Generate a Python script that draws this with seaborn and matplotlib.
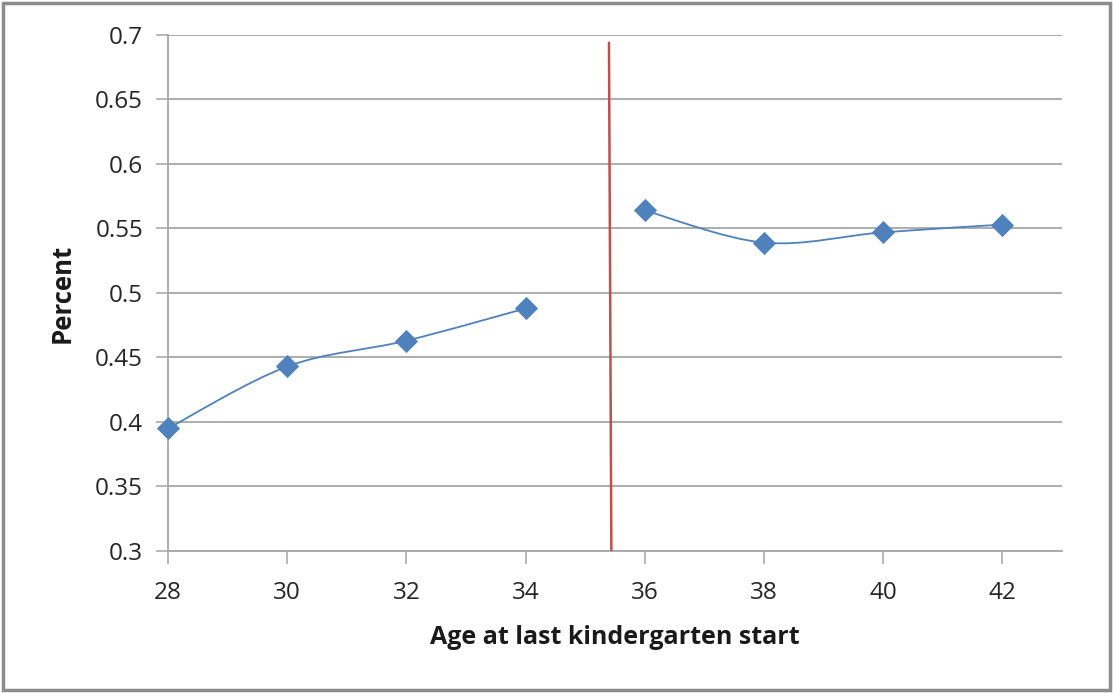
import seaborn as sns
import matplotlib.pyplot as plt
import pandas as pd
from matplotlib.path import Path
from matplotlib.patches import PathPatch, Rectangle

# data
ages_left = [28, 30, 32, 34]
pct_left = [0.395, 0.443, 0.463, 0.488]
ages_right = [36, 38, 40, 42]
pct_right = [0.564, 0.539, 0.547, 0.553]
cutoff_x = [35.40, 35.44]
cutoff_y = [0.694, 0.3]
x_ticks = [28, 30, 32, 34, 36, 38, 40, 42]
y_ticks = [0.3, 0.35, 0.4, 0.45, 0.5, 0.55, 0.6, 0.65, 0.7]

blue = '#4F81BD'
red = '#C0504D'
grid = '#A6A6A6'


def smooth_path(xs, ys):
    # excel style smoothed line (catmull-rom as bezier segments)
    pts = list(zip(xs, ys))
    verts = [pts[0]]
    codes = [Path.MOVETO]
    for i in range(len(pts) - 1):
        p0 = pts[i - 1] if i > 0 else pts[i]
        p1 = pts[i]
        p2 = pts[i + 1]
        p3 = pts[i + 2] if i + 2 < len(pts) else pts[i + 1]
        c1 = (p1[0] + (p2[0] - p0[0]) / 6, p1[1] + (p2[1] - p0[1]) / 6)
        c2 = (p2[0] - (p3[0] - p1[0]) / 6, p2[1] - (p3[1] - p1[1]) / 6)
        verts += [c1, c2, p2]
        codes += [Path.CURVE4] * 3
    return Path(verts, codes)


sns.set_style('white')
plt.rcParams['font.family'] = ['Open Sans', 'DejaVu Sans']

fig = plt.figure(figsize=(11.13, 6.93), dpi=100)
ax = fig.add_axes([0.151, 0.205, 0.803, 0.7445])

for xs, ys in [(ages_left, pct_left), (ages_right, pct_right)]:
    ax.add_patch(PathPatch(smooth_path(xs, ys), facecolor='none', edgecolor=blue, lw=1.3, zorder=3))
    df = pd.DataFrame({'age': xs, 'pct': ys})
    sns.scatterplot(data=df, x='age', y='pct', marker='D', s=140, color=blue,
                    edgecolor=blue, linewidth=0, ax=ax, zorder=4)
for coll in ax.collections:
    coll.set_clip_on(False)

ax.plot(cutoff_x, cutoff_y, color=red, lw=1.8, zorder=5)

ax.set_xlim(28, 43)
ax.set_ylim(0.3, 0.7)
ax.set_xticks(x_ticks)
ax.set_yticks(y_ticks)
ax.set_yticklabels([f'{v:g}' for v in y_ticks])
ax.yaxis.grid(True, color=grid, lw=1.3)
ax.tick_params(axis='both', which='both', length=9, width=1.1, color=grid,
               labelsize=17.5, labelcolor='#262626', direction='out',
               bottom=True, left=True)
ax.tick_params(axis='x', pad=13)
ax.tick_params(axis='y', pad=9)

for side in ['top', 'right']:
    ax.spines[side].set_visible(False)
for side in ['left', 'bottom']:
    ax.spines[side].set_color(grid)
    ax.spines[side].set_linewidth(1.3)

ax.set_xlabel('Age at last kindergarten start', fontsize=18, fontweight='bold', color='#1a1a1a', labelpad=14)
ax.set_ylabel('Percent', fontsize=18.5, fontweight='bold', color='#1a1a1a', labelpad=14)

# grey frame around the chart area
fig.patches.append(Rectangle((0.003, 0.004), 0.994, 0.992, transform=fig.transFigure,
                             fill=False, edgecolor='#8C8C8C', lw=2.5))

plt.savefig('out.png', dpi=100)
plt.close()
